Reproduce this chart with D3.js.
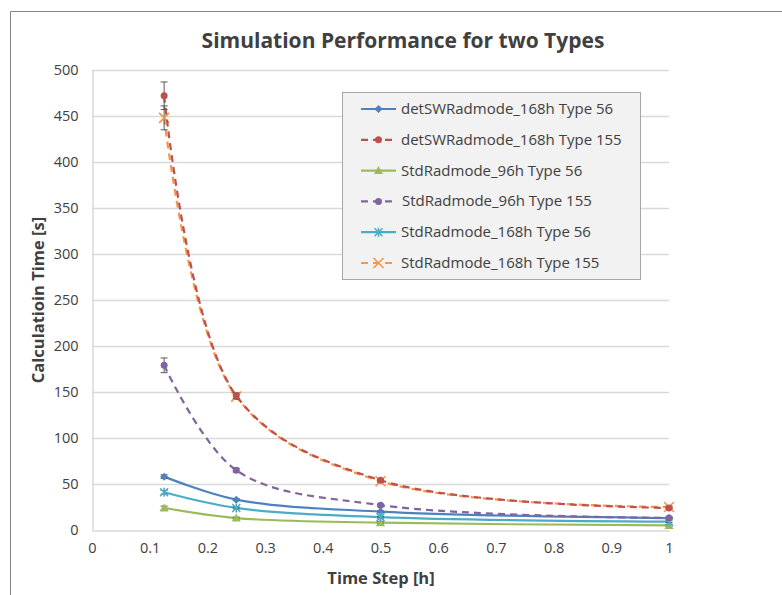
<!DOCTYPE html>
<html><head><meta charset="utf-8">
<script src="https://cdn.jsdelivr.net/npm/d3@7"></script>
<style>body{margin:0;background:#fff}svg{display:block}text{font-family:"Open Sans",Lato,sans-serif;fill:#404040}</style>
</head><body><svg id="c" width="782" height="595"></svg>
<script>
const timeSteps = [0.125, 0.25, 0.5, 1];
const seriesNames = ["detSWRadmode_168h Type 56","detSWRadmode_168h Type 155","StdRadmode_96h Type 56","StdRadmode_96h Type 155","StdRadmode_168h Type 56","StdRadmode_168h Type 155"];
const detSW168_56 = [58, 33, 20, 13];
const detSW168_155 = [472, 146, 54, 24];
const std96_56 = [24, 13, 8, 5];
const std96_155 = [179, 65, 27, 13];
const std168_56 = [41, 24, 14, 9];
const std168_155 = [448, 145, 53, 25];
const errDetSW168_155 = [15, 3, 1, 1];
const errStd96_155 = [8, 2, 1, 1];
const errStd168_155 = [13, 3, 1, 1];
const errSmall = [2, 1, 1, 1];
const yTicks = [0,50,100,150,200,250,300,350,400,450,500];
const xTicks = [0,0.1,0.2,0.3,0.4,0.5,0.6,0.7,0.8,0.9,1];

const colors = ["#4F81BD","#C0504D","#9BBB59","#8064A2","#4BACC6","#F79646"];
const dashed = [false,true,false,true,false,true];
const markers = ["diamond","circle","triangle","circle","asterisk","cross"];
const values = [detSW168_56, detSW168_155, std96_56, std96_155, std168_56, std168_155];
const errs = [errSmall, errDetSW168_155, errSmall, errStd96_155, errSmall, errStd168_155];

const svg = d3.select("#c");
svg.append("path").attr("d","M10.5,595 V11.5 H782").attr("fill","none").attr("stroke","#868686").attr("stroke-width",1);

const L=92, R=669, T=70, B=530;
const x = d3.scaleLinear().domain([0,1]).range([L,R]);
const y = d3.scaleLinear().domain([0,500]).range([B,T]);

svg.append("g").selectAll("line").data(yTicks.filter(d=>d>0)).join("line")
  .attr("x1",L).attr("x2",R).attr("y1",d=>Math.round(y(d))+0.5).attr("y2",d=>Math.round(y(d))+0.5)
  .attr("stroke","#d9d9d9").attr("stroke-width",1.5);

const ya = svg.append("g").attr("transform",`translate(${L+0.5},0)`).call(d3.axisLeft(y).tickValues(yTicks).tickSize(0).tickPadding(14));
ya.select(".domain").attr("stroke","#d9d9d9").attr("stroke-width",1.5);
ya.selectAll("text").style("font-size","14.5px").attr("fill","#404040").style("font-family","'Open Sans',sans-serif");
const xa = svg.append("g").attr("transform",`translate(0,${B+0.5})`).call(d3.axisBottom(x).tickValues(xTicks).tickSize(0).tickPadding(12).tickFormat(d3.format("")));
xa.select(".domain").attr("stroke","#d9d9d9").attr("stroke-width",1.5);
xa.selectAll("text").style("font-size","14.5px").attr("fill","#404040").style("font-family","'Open Sans',sans-serif");

svg.append("text").attr("x",403).attr("y",48).attr("text-anchor","middle").style("font-size","21px").style("font-weight","bold").attr("fill","#262626").text("Simulation  Performance for two Types");
svg.append("text").attr("x",381).attr("y",584).attr("text-anchor","middle").style("font-size","16.5px").style("font-weight","bold").attr("fill","#262626").text("Time Step [h]");
svg.append("text").attr("transform","translate(44,300) rotate(-90)").attr("text-anchor","middle").style("font-size","16.5px").style("font-weight","bold").attr("fill","#262626").text("Calculatioin Time [s]");

function drawMarker(g, type, cx, cy, color){
  const s = g.append("g").attr("transform",`translate(${cx},${cy})`);
  if(type==="diamond") s.append("path").attr("d","M0,-4L4,0L0,4L-4,0Z").attr("fill",color);
  else if(type==="circle") s.append("circle").attr("r",3.5).attr("fill",color);
  else if(type==="triangle") s.append("path").attr("d","M0,-4.5L4.5,3.5L-4.5,3.5Z").attr("fill",color);
  else if(type==="asterisk") s.append("path").attr("d","M-4,-4L4,4M-4,4L4,-4M0,-4.5V4.5").attr("stroke",color).attr("stroke-width",1.5);
  else if(type==="cross") s.append("path").attr("d","M-5,-5L5,5M-5,5L5,-5").attr("stroke",color).attr("stroke-width",1.6);
}

const line = d3.line().x(d=>x(d[0])).y(d=>y(d[1])).curve(d3.curveCatmullRom.alpha(0.5));
const order = [0,2,4,3,5,1];
order.forEach(i=>{
  const pts = timeSteps.map((t,j)=>[t, values[i][j]]);
  const g = svg.append("g");
  g.append("path").attr("d",line(pts)).attr("fill","none").attr("stroke",colors[i]).attr("stroke-width",2.2)
   .attr("stroke-dasharray",dashed[i]?"7,5":null);
  pts.forEach((p,j)=>{
    const e = errs[i][j];
    const px = x(p[0]), y1 = y(p[1]+e), y2 = y(p[1]-e);
    g.append("line").attr("x1",px).attr("x2",px).attr("y1",y1).attr("y2",y2).attr("stroke","#595959").attr("stroke-width",1);
    [y1,y2].forEach(yy=>g.append("line").attr("x1",px-3.5).attr("x2",px+3.5).attr("y1",yy).attr("y2",yy).attr("stroke","#595959").attr("stroke-width",1));
    drawMarker(g, markers[i], px, y(p[1]), colors[i]);
  });
});

const lg = svg.append("g");
lg.append("rect").attr("x",342.5).attr("y",92.5).attr("width",298).attr("height",187).attr("fill","#f2f2f2").attr("stroke","#a6a6a6");
seriesNames.forEach((n,i)=>{
  const yy = 109 + i*30.8;
  lg.append("line").attr("x1",361).attr("x2",396).attr("y1",yy).attr("y2",yy).attr("stroke",colors[i]).attr("stroke-width",2.2).attr("stroke-dasharray",dashed[i]?"7,5":null);
  drawMarker(lg, markers[i], 378.5, yy, colors[i]);
  lg.append("text").attr("x",i===3?402:401).attr("y",yy+5).style("font-size","15px").attr("fill","#262626").text(n);
});
</script></body></html>
